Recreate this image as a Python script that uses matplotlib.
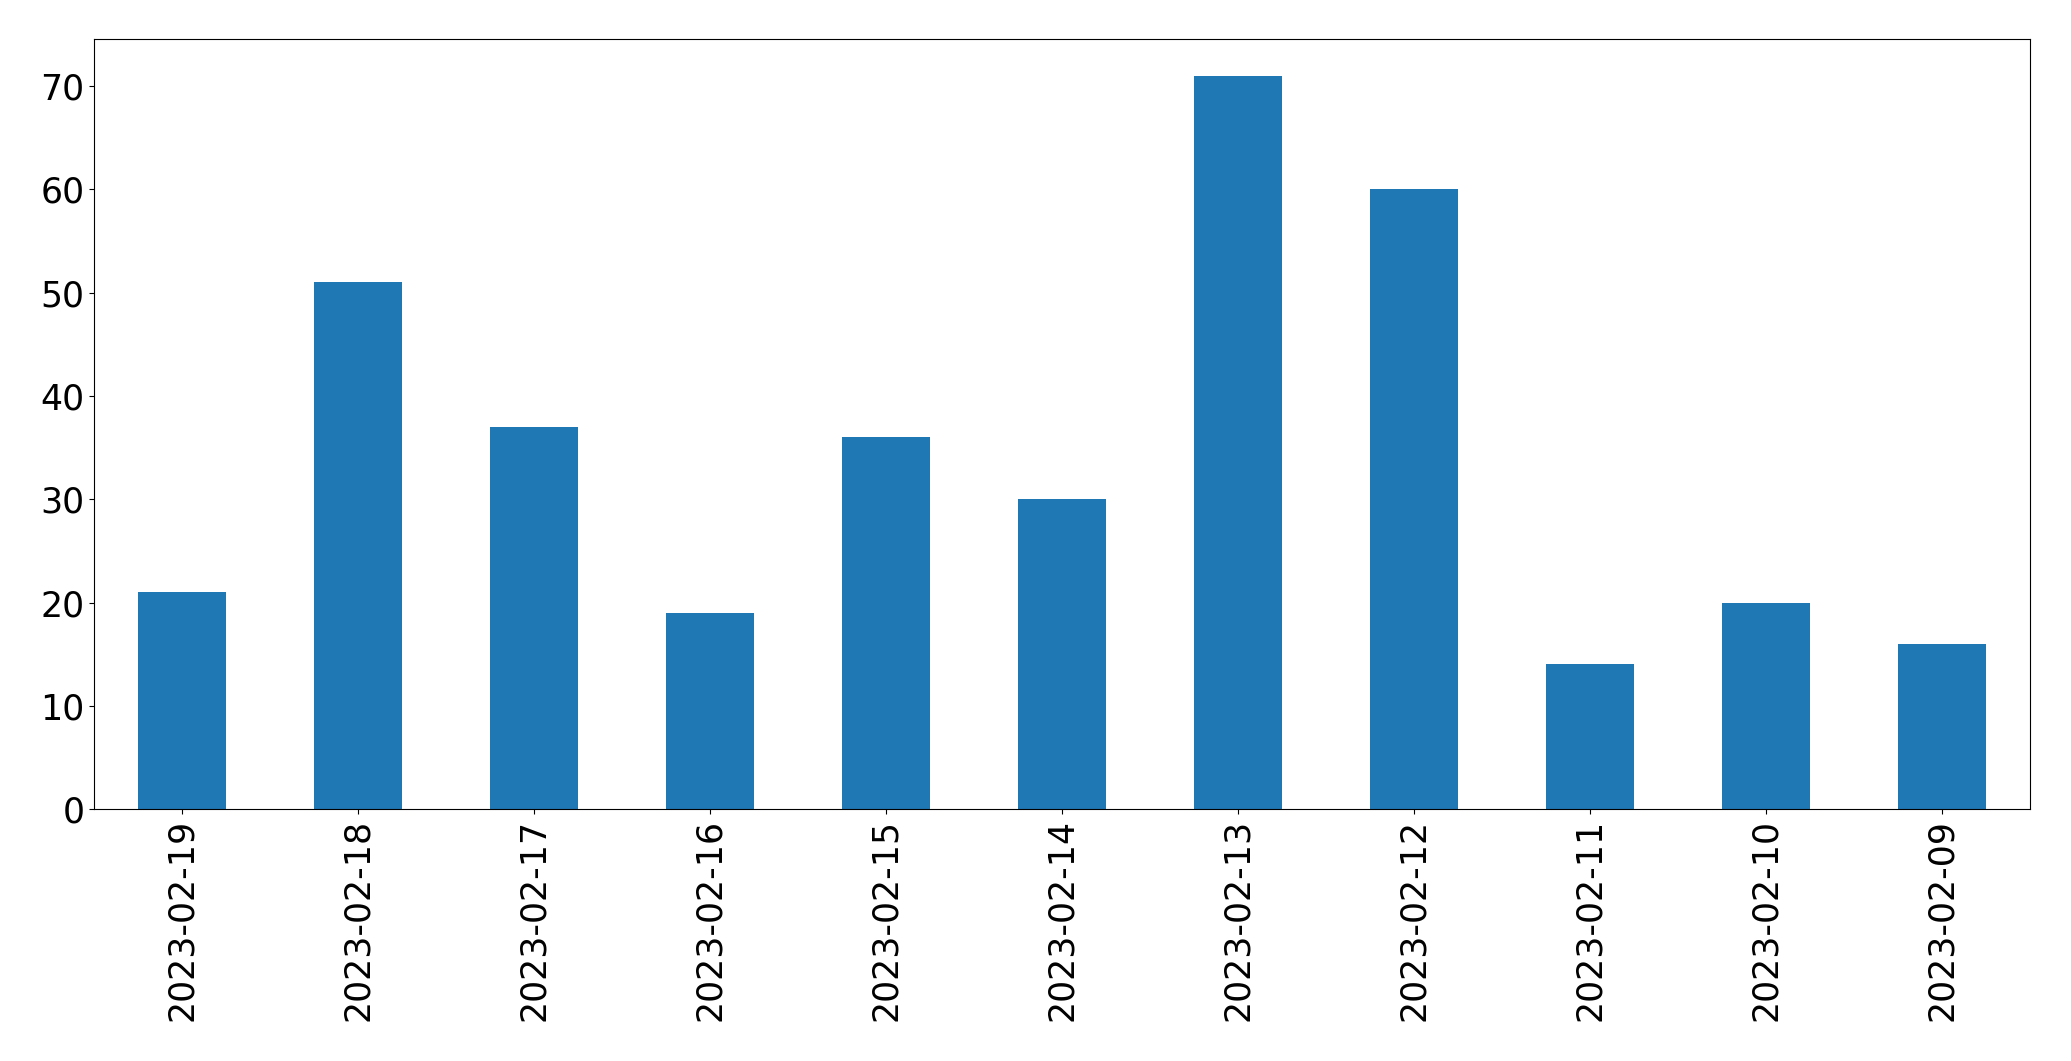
import matplotlib
matplotlib.use("Agg")
import matplotlib.pyplot as plt
import pandas as pd

# 日付ごとの件数
dates = ["2023-02-19", "2023-02-18", "2023-02-17", "2023-02-16", "2023-02-15",
	"2023-02-14", "2023-02-13", "2023-02-12", "2023-02-11", "2023-02-10", "2023-02-09"]
counts = [21, 51, 37, 19, 36, 30, 71, 60, 14, 20, 16]

s = pd.Series(counts, index=dates)

fig, ax = plt.subplots(figsize=(20.71, 10.61), dpi=100)
s.plot(kind="bar", ax=ax, color="#1f77b4", fontsize=25)
ax.tick_params(axis="x", labelrotation=90)
fig.subplots_adjust(left=0.0455, right=0.9803, top=0.963, bottom=0.2375)
fig.savefig("out.png", dpi=100)
